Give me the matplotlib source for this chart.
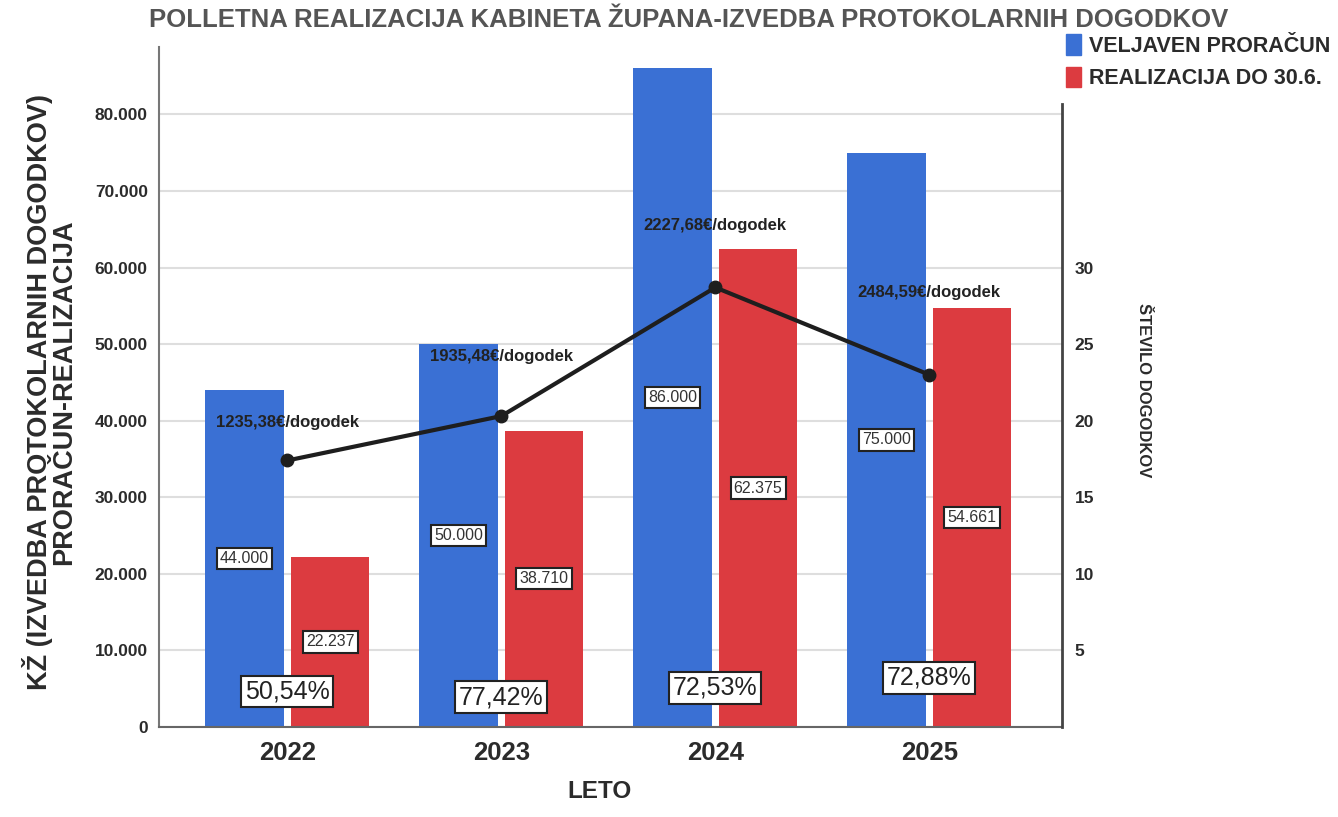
import matplotlib.pyplot as plt
import numpy as np

# data
years = ["2022", "2023", "2024", "2025"]
budget = [44000, 50000, 86000, 75000]
realized = [22237, 38710, 62375, 54661]
events = [17.4, 20.3, 28.7, 23.0]
cost_per_event = [1235.38, 1935.48, 2227.68, 2484.59]

# where the text boxes sit (left axis units)
pct_label_y = [4600, 3900, 5100, 6400]
cost_label_y = [39800, 48400, 65500, 56700]

BLUE = "#3a70d4"
RED = "#dc3b40"
DARK = "#2b2b2b"


def dots(v):
    return f"{v:,.0f}".replace(",", ".")


plt.rcParams['font.family'] = ['Liberation Sans', 'DejaVu Sans']

fig = plt.figure(figsize=(13.38, 8.17), dpi=100)
ax = fig.add_axes([0.1188, 0.1102, 0.6749, 0.8323])

x = np.arange(len(years))
w = 0.365
b1 = ax.bar(x - 0.2, budget, w, color=BLUE, zorder=2)
b2 = ax.bar(x + 0.2, realized, w, color=RED, zorder=2)

box = dict(boxstyle="square,pad=0.2", fc="white", ec="#222222", lw=1.5)
ax.bar_label(b1, labels=[dots(v) for v in budget], label_type="center",
             fontsize=11.5, color="#333333", bbox=box)
ax.bar_label(b2, labels=[dots(v) for v in realized], label_type="center",
             fontsize=11.5, color="#333333", bbox=box)

for i in range(len(years)):
    pct = realized[i] / budget[i] * 100
    ax.text(x[i], pct_label_y[i], f"{pct:.2f}%".replace(".", ","),
            ha="center", va="center", fontsize=18, color="#222222", zorder=5,
            bbox=dict(boxstyle="square,pad=0.15", fc="white", ec="#222222", lw=1.5))

ax.set_xlim(-0.6, 3.62)
ax.set_ylim(0, 88800)
ax.set_yticks(range(0, 80001, 10000))
ax.set_yticklabels([dots(v) for v in range(0, 80001, 10000)])
ax.set_xticks(x)
ax.set_xticklabels(years)
ax.tick_params(axis="y", length=0, pad=8, labelsize=12.5, labelcolor=DARK)
ax.tick_params(axis="x", length=0, pad=10, labelsize=18.5, labelcolor=DARK)
for lab in ax.get_xticklabels() + ax.get_yticklabels():
    lab.set_fontweight("bold")
ax.grid(axis="y", color="#dedede", lw=1.5, zorder=0)
ax.spines["top"].set_visible(False)
ax.spines["right"].set_visible(False)
ax.spines["left"].set_color("#777777")
ax.spines["left"].set_linewidth(1.5)
ax.spines["bottom"].set_color("#666666")
ax.spines["bottom"].set_linewidth(1.5)

# event count on the right axis
ax2 = ax.twinx()
ax2.set_ylim(0, 88800 / 2000)
ax2.plot(x, events, color="#1e1e1e", lw=3, marker="o", ms=9, zorder=4)
for i in range(len(years)):
    ax2.text(x[i], cost_label_y[i] / 2000,
             f"{cost_per_event[i]:.2f}".replace(".", ",") + "€/dogodek",
             ha="center", va="center", fontsize=12, fontweight="bold",
             color="#222222", zorder=6)
ax2.set_yticks([5, 10, 15, 20, 25, 30])
ax2.tick_params(axis="y", length=0, pad=9, labelsize=12.5, labelcolor=DARK)
for lab in ax2.get_yticklabels():
    lab.set_fontweight("bold")
for s in ["top", "left", "bottom"]:
    ax2.spines[s].set_visible(False)
ax2.spines["right"].set_color("#444444")
ax2.spines["right"].set_linewidth(2)
ax2.spines["right"].set_bounds(0, 40.7)

# legend
handles = [plt.Rectangle((0, 0), 1, 1, color=BLUE),
           plt.Rectangle((0, 0), 1, 1, color=RED)]
fig.legend(handles, ["VELJAVEN PRORAČUN", "REALIZACIJA DO 30.6."],
           loc="upper left", bbox_to_anchor=(0.797, 0.958), frameon=False,
           handlelength=0.7, handleheight=1.1, handletextpad=0.35,
           labelspacing=0.45, borderaxespad=0, borderpad=0,
           prop={"weight": "bold", "size": 15.5})
for t in fig.legends[0].get_texts():
    t.set_color(DARK)

fig.text(0.515, 0.975, "POLLETNA REALIZACIJA KABINETA ŽUPANA-IZVEDBA PROTOKOLARNIH DOGODKOV",
         ha="center", va="center", fontsize=18.5, fontweight="bold", color="#555555")
fig.text(0.037, 0.52, "KŽ (IZVEDBA PROTOKOLARNIH DOGODKOV)\nPRORAČUN-REALIZACIJA",
         rotation=90, ha="center", va="center", multialignment="center",
         fontsize=19.5, fontweight="bold", color=DARK, linespacing=0.9)
fig.text(0.855, 0.523, "ŠTEVILO DOGODKOV", rotation=-90, ha="center", va="center",
         fontsize=12, fontweight="bold", color=DARK)
fig.text(0.448, 0.017, "LETO", ha="center", va="bottom", fontsize=17.5,
         fontweight="bold", color=DARK)

fig.savefig("out.png", dpi=100)
